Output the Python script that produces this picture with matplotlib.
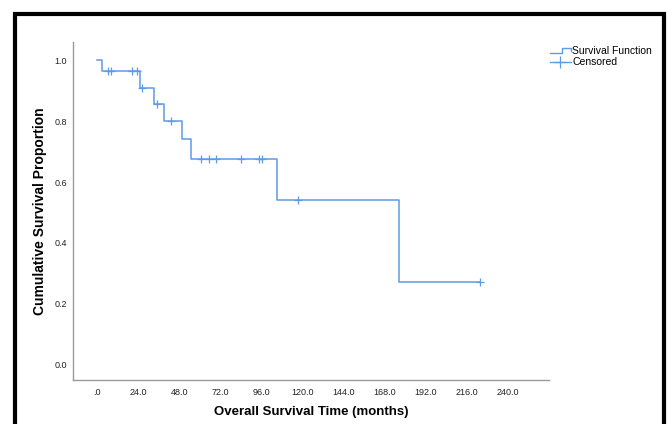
import matplotlib
matplotlib.use("Agg")
import matplotlib.pyplot as plt
import numpy as np
from matplotlib.lines import Line2D
from matplotlib.patches import Rectangle
from matplotlib.legend_handler import HandlerBase

plt.rcParams['font.family'] = ['Liberation Sans', 'DejaVu Sans']

# Kaplan-Meier steps
event_times = [0.0, 3.1, 25.1, 33.5, 39.3, 49.6, 55.1, 104.9, 176.5]
survival = [1.0, 0.964, 0.910, 0.855, 0.800, 0.740, 0.677, 0.541, 0.271]
last_time = 223.6

censor_times = [6.6, 8.2, 20.2, 23.2, 26.1, 34.8, 43.2, 60.5, 65.1, 69.4,
                84.1, 94.5, 96.2, 117.5, 223.6]

x_ticks = [0, 24, 48, 72, 96, 120, 144, 168, 192, 216, 240]
x_ticklabels = ['.0', '24.0', '48.0', '72.0', '96.0', '120.0', '144.0',
                '168.0', '192.0', '216.0', '240.0']
y_ticks = [0.0, 0.2, 0.4, 0.6, 0.8, 1.0]
y_ticklabels = ['0.0', '0.2', '0.4', '0.6', '0.8', '1.0']

line_color = '#5e9be6'


class StepHandler(HandlerBase):
    def create_artists(self, legend, orig_handle, xdescent, ydescent,
                       width, height, fontsize, trans):
        x0 = -xdescent
        y0 = -ydescent
        xs = [x0, x0 + 0.55 * width, x0 + 0.55 * width, x0 + width, x0 + width]
        ys = [y0 + 0.25 * height, y0 + 0.25 * height, y0 + 0.85 * height,
              y0 + 0.85 * height, y0 + 0.4 * height]
        ln = Line2D(xs, ys, color=orig_handle.get_color(),
                    lw=orig_handle.get_linewidth())
        ln.set_transform(trans)
        return [ln]


fig = plt.figure(figsize=(6.72, 4.24), dpi=100)
ax = fig.add_axes([0.108, 0.104, 0.709, 0.797])

st_t = np.array(event_times + [last_time])
st_s = np.array(survival + [survival[-1]])
ax.step(st_t, st_s, where='post', color=line_color, lw=1.1)

idx = np.searchsorted(np.array(event_times), np.array(censor_times), side='right') - 1
censor_vals = np.array(survival)[idx]
ax.plot(censor_times, censor_vals, ls='none', marker='+', ms=6, mew=0.9,
        color=line_color)

ax.set_xlim(-14.3, 263.8)
ax.set_ylim(-0.05, 1.06)
ax.set_xticks(x_ticks)
ax.set_xticklabels(x_ticklabels)
ax.set_yticks(y_ticks)
ax.set_yticklabels(y_ticklabels)
ax.tick_params(length=0, labelsize=6.5, colors='#222222')
ax.tick_params(axis='x', pad=6)
ax.tick_params(axis='y', pad=4)

for side in ['top', 'right']:
    ax.spines[side].set_visible(False)
for side in ['left', 'bottom']:
    ax.spines[side].set_color('#999999')
    ax.spines[side].set_linewidth(1.0)

ax.set_xlabel('Overall Survival Time (months)', fontsize=9.5, fontweight='bold',
              labelpad=6)
ax.set_ylabel('Cumulative Survival Proportion', fontsize=10, fontweight='bold',
              labelpad=5)

h_surv = Line2D([], [], color=line_color, lw=1.0)
h_cens = Line2D([], [], color=line_color, lw=1.0, marker='+', ms=8, mew=0.9)
ax.legend([h_surv, h_cens], ['Survival Function', 'Censored'],
          loc='upper left', bbox_to_anchor=(1.0, 0.99), frameon=False,
          fontsize=7.5, handlelength=2.0, handletextpad=0.15, labelspacing=0.1,
          borderpad=0.1, borderaxespad=0.0,
          handler_map={h_surv: StepHandler()})

fig.patches.append(Rectangle((15 / 672, -0.05), (664 - 15) / 672, 1.05 - 14 / 424,
                             transform=fig.transFigure, fill=False,
                             edgecolor='black', lw=3.0))

fig.savefig('out.png', dpi=100)
